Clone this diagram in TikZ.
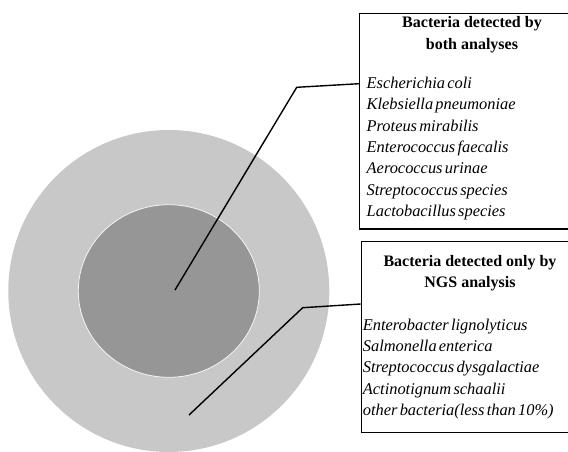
\documentclass[tikz,border=0pt]{standalone}
\usepackage{fontspec}
\setmainfont{Liberation Serif}
\newfontfamily\itemfont{Liberation Serif}[WordSpace=0.55]
\definecolor{outergray}{HTML}{C8C8C8}
\definecolor{innergray}{HTML}{969696}
\begin{document}
\begin{tikzpicture}[x=1pt,y=-1pt,
  titletext/.style={font=\fontsize{16}{20}\selectfont\bfseries, anchor=base, inner sep=0pt},
  itemtext/.style={font=\itemfont\fontsize{16.4}{20}\selectfont\itshape, anchor=base west, inner sep=0pt},
  boxframe/.style={draw=black, line width=1.3pt, inner sep=0pt, anchor=north west},
  leader/.style={draw=black, line width=1.4pt}]
\useasboundingbox (0,0) rectangle (568,451);
\clip (0,0) rectangle (568,451);
\fill[white] (0,0) rectangle (568,451);
% circles
\fill[outergray] (168.8,291) ellipse [x radius=160.5pt, y radius=161pt];
\filldraw[fill=innergray, draw=white!92!gray, line width=0.8pt] (168.8,291) ellipse [x radius=90.5pt, y radius=86.3pt];
% boxes
\node[boxframe, minimum width=232pt, minimum height=215.6pt] (box1) at (359,12.7) {};
\node[boxframe, minimum width=232pt, minimum height=190.7pt] (box2) at (360.7,241) {};
% box 1 text
\node[titletext] (t1a) at (472,27.5) {Bacteria detected by};
\node[titletext] (t1b) at (472,49.5) {both analyses};
\node[itemtext] (i11) at (366.5,88.3) {Escherichia coli};
\node[itemtext] (i12) at (366.5,109.7) {Klebsiella pneumoniae};
\node[itemtext] (i13) at (366.5,131.1) {Proteus mirabilis};
\node[itemtext] (i14) at (366.5,152.5) {Enterococcus faecalis};
\node[itemtext] (i15) at (366.5,173.9) {Aerococcus urinae};
\node[itemtext] (i16) at (366.5,195.3) {Streptococcus species};
\node[itemtext] (i17) at (366.5,216.7) {Lactobacillus species};
% box 2 text
\node[titletext] (t2a) at (470,266) {Bacteria detected only by};
\node[titletext] (t2b) at (470,287.7) {NGS analysis};
\node[itemtext] (i21) at (362.7,330) {Enterobacter lignolyticus};
\node[itemtext] (i22) at (362.7,351.4) {Salmonella enterica};
\node[itemtext] (i23) at (362.7,372.7) {Streptococcus dysgalactiae};
\node[itemtext] (i24) at (362.7,394) {Actinotignum schaalii};
\node[itemtext] (i25) at (362.7,415.3) {other bacteria(less than 10\%)};
% leaders
\coordinate (c1) at (175,290);
\coordinate (k1) at (296.7,87.3);
\coordinate (e1) at (359,83.7);
\coordinate (c2) at (189,415);
\coordinate (k2) at (302.7,307.7);
\coordinate (e2) at (360.7,304);
\draw[leader] (c1) -- (k1) -- (e1);
\draw[leader] (c2) -- (k2) -- (e2);
\end{tikzpicture}
\end{document}
